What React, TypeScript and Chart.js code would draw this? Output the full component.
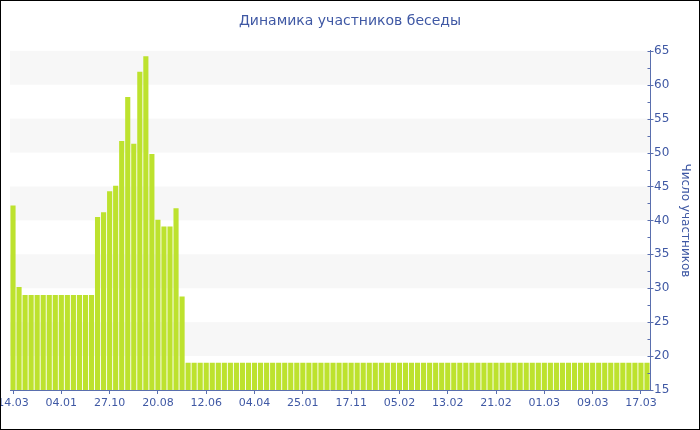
import React, { useEffect, useRef } from "react";
import { Chart, registerables } from "chart.js";

Chart.register(...registerables);

const chartTitle = "Динамика участников беседы";
const axisTitle = "Число участников";

const tickLabels = [
  "14.03", "04.01", "27.10", "20.08", "12.06", "04.04", "25.01",
  "17.11", "05.02", "13.02", "21.02", "01.03", "09.03", "17.03",
];

const values = [
  42.2, 30.2, 29, 29, 29, 29, 29, 29, 29, 29, 29, 29, 29, 29,
  40.5, 41.2, 44.3, 45.1, 51.7, 58.2, 51.3, 61.9, 64.2, 49.8,
  40.1, 39.1, 39.1, 41.8, 28.8,
  19, 19, 19, 19, 19, 19, 19, 19, 19, 19,
  19, 19, 19, 19, 19, 19, 19, 19, 19, 19,
  19, 19, 19, 19, 19, 19, 19, 19, 19, 19,
  19, 19, 19, 19, 19, 19, 19, 19, 19, 19,
  19, 19, 19, 19, 19, 19, 19, 19, 19, 19,
  19, 19, 19, 19, 19, 19, 19, 19, 19, 19,
  19, 19, 19, 19, 19, 19, 19, 19, 19, 19,
  19, 19, 19, 19, 19, 19, 19,
];

const tickEvery = 8;
const categories = values.map((_, i) =>
  i % tickEvery === 0 ? tickLabels[i / tickEvery] ?? "" : ""
);

const yMin = 15;
const yMax = 65;
const yStep = 5;
const bandStarts = [20, 30, 40, 50, 60];

const BLUE = "#3f58a4";
const AXIS = "#5a6fae";
const BAR = "#bde22e";
const BAND = "#f7f7f7";
const FONT = "'DejaVu Sans', Verdana, sans-serif";

const bandsPlugin = {
  id: "bands",
  beforeDatasetsDraw(chart: any) {
    const { ctx, chartArea, scales } = chart;
    const y = scales.y;
    ctx.save();
    ctx.fillStyle = BAND;
    for (const b of bandStarts) {
      const top = y.getPixelForValue(b + yStep);
      const bottom = y.getPixelForValue(b);
      ctx.fillRect(chartArea.left, top, chartArea.right - chartArea.left, bottom - top);
    }
    ctx.restore();
  },
};

const yTicksPlugin = {
  id: "yticks",
  afterDraw(chart: any) {
    const { ctx, chartArea, scales } = chart;
    const y = scales.y;
    const x = Math.round(chartArea.right) + 0.5;
    ctx.save();
    ctx.strokeStyle = AXIS;
    ctx.lineWidth = 1;
    ctx.beginPath();
    for (let v = yMin; v <= yMax + 0.001; v += yStep / 2) {
      const py = Math.round(y.getPixelForValue(v)) + 0.5;
      const major = Math.abs(v % yStep) < 0.001;
      ctx.moveTo(x - 3, py);
      ctx.lineTo(major ? x + 3 : x, py);
    }
    ctx.stroke();
    ctx.restore();
  },
};

export default function App() {
  const ref = useRef<HTMLCanvasElement>(null);

  useEffect(() => {
    document.body.style.margin = "0";
    const canvas = ref.current;
    if (!canvas) return;
    const chart = new Chart(canvas, {
      type: "bar",
      data: {
        labels: categories,
        datasets: [
          {
            data: values,
            backgroundColor: BAR,
            borderWidth: 0,
            barPercentage: 0.85,
            categoryPercentage: 1,
          },
        ],
      },
      options: {
        animation: false,
        responsive: true,
        maintainAspectRatio: false,
        layout: { padding: 0 },
        plugins: {
          legend: { display: false },
          tooltip: { enabled: false },
          title: {
            display: true,
            text: chartTitle,
            color: BLUE,
            font: { family: FONT, size: 14, weight: "normal" },
            padding: { top: 12, bottom: 21 },
          },
        },
        scales: {
          x: {
            grid: {
              display: true,
              drawOnChartArea: false,
              drawTicks: true,
              tickLength: 4,
              offset: false,
              tickColor: (c: any) =>
                c.index % tickEvery === 0 ? AXIS : "rgba(0,0,0,0)",
            },
            border: { display: true, color: AXIS, width: 1 },
            ticks: {
              autoSkip: false,
              maxRotation: 0,
              minRotation: 0,
              padding: 3,
              color: BLUE,
              font: { family: FONT, size: 11 },
            },
            afterFit: (scale: any) => {
              scale.height = 39;
              scale.paddingLeft = 9;
              scale.paddingRight = 0;
            },
          },
          y: {
            position: "right",
            min: yMin,
            max: yMax,
            grid: { display: true, drawOnChartArea: false, drawTicks: false },
            border: { display: true, color: AXIS, width: 1 },
            ticks: {
              stepSize: yStep,
              padding: 4,
              color: BLUE,
              font: { family: FONT, size: 12 },
            },
            title: {
              display: true,
              text: axisTitle,
              color: BLUE,
              font: { family: FONT, size: 12 },
              padding: { top: 7, bottom: 0 },
            },
            afterFit: (scale: any) => {
              scale.width = 49;
              scale.paddingTop = 0;
              scale.paddingBottom = 0;
            },
          },
        },
      } as any,
      plugins: [bandsPlugin, yTicksPlugin],
    });
    return () => chart.destroy();
  }, []);

  return (
    <div
      style={{
        width: 700,
        height: 430,
        border: "1px solid #000",
        boxSizing: "border-box",
        position: "relative",
        overflow: "hidden",
        background: "#fff",
      }}
    >
      <div style={{ position: "absolute", left: 0, top: 0, width: 698, height: 428 }}>
        <canvas ref={ref} />
      </div>
    </div>
  );
}
